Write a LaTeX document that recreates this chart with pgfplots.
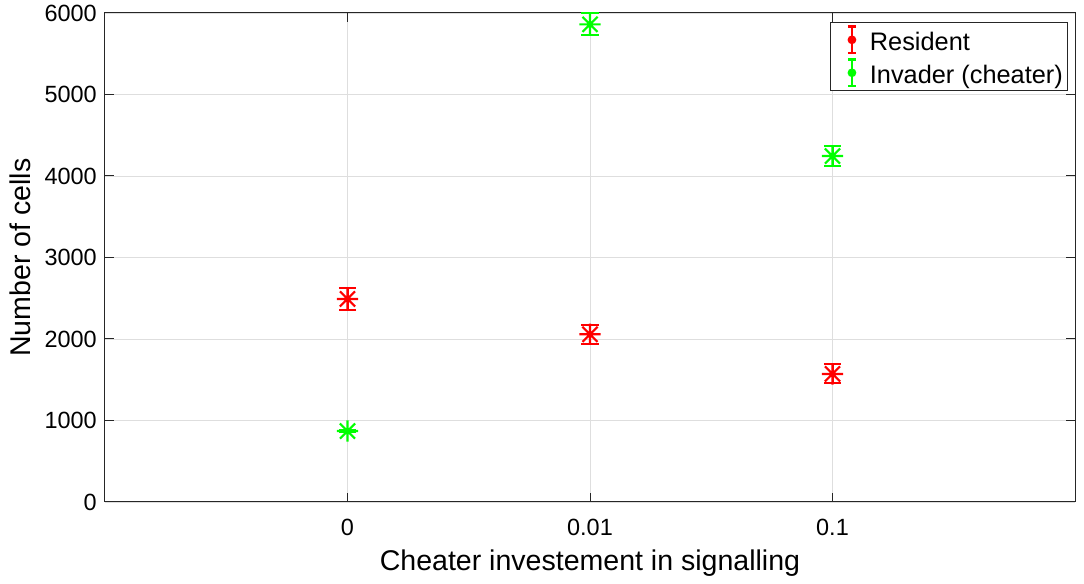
\documentclass[border=0pt]{standalone}
\usepackage{fontspec}
\setmainfont{Liberation Sans}
\usepackage{pgfplots}
\pgfplotsset{compat=1.18}
\definecolor{axgray}{rgb}{0.15,0.15,0.15}
\definecolor{gridgray}{rgb}{0.87,0.87,0.87}
\definecolor{mred}{rgb}{1,0,0}
\definecolor{mgreen}{rgb}{0,1,0}
\pgfdeclareplotmark{mstar}{%
  \pgfpathmoveto{\pgfqpoint{0pt}{\pgfplotmarksize}}%
  \pgfpathlineto{\pgfqpoint{0pt}{-\pgfplotmarksize}}%
  \pgfpathmoveto{\pgfqpoint{\pgfplotmarksize}{0pt}}%
  \pgfpathlineto{\pgfqpoint{-\pgfplotmarksize}{0pt}}%
  \pgfpathmoveto{\pgfqpoint{0.707\pgfplotmarksize}{0.707\pgfplotmarksize}}%
  \pgfpathlineto{\pgfqpoint{-0.707\pgfplotmarksize}{-0.707\pgfplotmarksize}}%
  \pgfpathmoveto{\pgfqpoint{0.707\pgfplotmarksize}{-0.707\pgfplotmarksize}}%
  \pgfpathlineto{\pgfqpoint{-0.707\pgfplotmarksize}{0.707\pgfplotmarksize}}%
  \pgfusepathqstroke}
\pgfplotstableread{
x y e
1 2491 130
2 2058 117
3 1571 117
}\resident
\pgfplotstableread{
x y e
1 871 15
2 5861 135
3 4245 119
}\invader
\begin{document}
\begin{tikzpicture}
\begin{axis}[
  scale only axis, width=727.5pt, height=366.75pt,
  xmin=0, xmax=4, ymin=0, ymax=6000,
  xtick={1,2,3}, xticklabels={0,0.01,0.1},
  ytick={0,1000,2000,3000,4000,5000,6000},
  scaled y ticks=false,
  /pgf/number format/assume math mode=true,
  /pgf/number format/1000 sep={},
  grid=major, major grid style={gridgray, line width=0.6pt},
  axis line style={axgray, line width=0.75pt},
  tick style={axgray, line width=0.75pt},
  tick align=inside, major tick length=7pt,
  ticklabel style={font=\fontsize{17.6}{20}\selectfont, inner sep=0pt},
  yticklabel style={xshift=-6pt},
  xticklabel style={yshift=-13pt},
  xlabel={Cheater investement in signalling},
  ylabel={Number of cells},
  label style={font=\fontsize{21.4}{24}\selectfont},
  xlabel style={at={(axis description cs:0.5,-0.1247)}, anchor=center},
  ylabel style={at={(axis description cs:-0.0876,0.5)}, anchor=center},
  legend style={at={(axis description cs:0.9928,0.9816)}, anchor=north east,
    draw=axgray, line width=0.75pt, fill=white,
    font=\fontsize{19}{22}\selectfont,
    inner xsep=0pt, inner ysep=2pt, row sep=2.7pt,
    nodes={inner xsep=3.5pt, inner ysep=2pt, text height=16.5pt, text depth=1pt}},
  legend cell align=left,
  clip=false,
]
\addplot[only marks, mred, mark=mstar, mark size=8pt, line width=1.6pt,
  mark options={line width=1.6pt},
  legend image code/.code={%
    \path[draw=none, fill=none] (-16pt,0pt) -- (10pt,0pt);
    \path[draw=mred, fill=none, line width=2pt] (0pt,-10pt) -- (0pt,10pt)
      (-3pt,-10pt) -- (3pt,-10pt) (-3pt,10pt) -- (3pt,10pt);
    \path[draw=none, fill=mred] (0pt,0pt) circle (3.3pt);},
  error bars/.cd, y dir=both, y explicit,
  error bar style={line width=1.5pt, mred},
  error mark options={mark size=6.5pt, line width=1.5pt, mred, rotate=90}
] table[x=x, y=y, y error=e] {\resident};
\addlegendentry{Resident}
\addplot[only marks, mgreen, mark=mstar, mark size=8pt, line width=1.6pt,
  mark options={line width=1.6pt},
  legend image code/.code={%
    \path[draw=none, fill=none] (-16pt,0pt) -- (10pt,0pt);
    \path[draw=mgreen, fill=none, line width=2pt] (0pt,-10pt) -- (0pt,10pt)
      (-3pt,-10pt) -- (3pt,-10pt) (-3pt,10pt) -- (3pt,10pt);
    \path[draw=none, fill=mgreen] (0pt,0pt) circle (3.3pt);},
  error bars/.cd, y dir=both, y explicit,
  error bar style={line width=1.5pt, mgreen},
  error mark options={mark size=6.5pt, line width=1.5pt, mgreen, rotate=90}
] table[x=x, y=y, y error=e] {\invader};
\addlegendentry{Invader (cheater)}
\end{axis}
\pgfresetboundingbox
\path (-78.75pt,-61.5pt) rectangle (734.25pt,376.5pt);
\end{tikzpicture}
\end{document}
